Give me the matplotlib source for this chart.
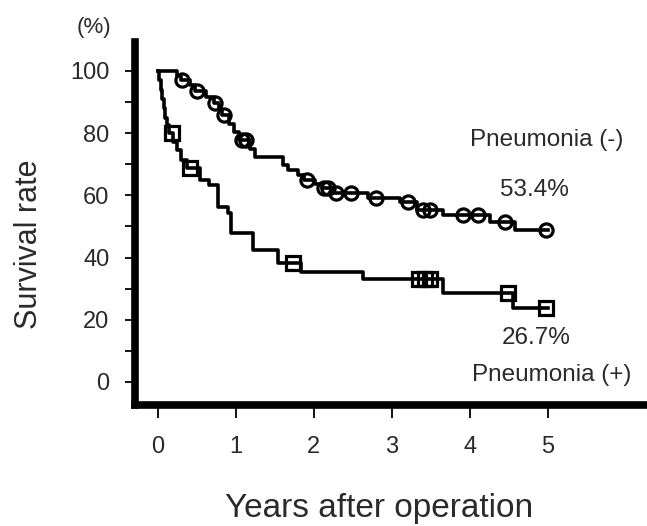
import numpy as np
import matplotlib
matplotlib.use("Agg")
import matplotlib.pyplot as plt

# ---------------- data ----------------
# Pneumonia (-) : step times (years) and survival (%) after each step
neg_times = [0.00, 0.25, 0.30, 0.42, 0.48, 0.62, 0.72, 0.79, 0.83, 0.92, 0.98,
             1.04, 1.18, 1.25, 1.61, 1.67, 1.80, 1.88, 2.02, 2.10, 2.24, 2.70,
             3.10, 3.32, 3.66, 4.26, 4.58, 5.00]
neg_surv = [100.0, 98.5, 97.0, 95.5, 93.6, 91.5, 89.6, 87.5, 85.8, 83.0, 80.5,
            77.8, 75.0, 72.4, 69.8, 68.2, 66.5, 65.0, 63.8, 62.3, 60.6, 59.0,
            58.0, 55.3, 53.7, 51.5, 48.9, 48.9]
neg_censor = [0.31, 0.50, 0.74, 0.85, 1.08, 1.13, 1.91, 2.13, 2.18, 2.29, 2.48,
              2.80, 3.21, 3.40, 3.49, 3.91, 4.11, 4.45, 4.98]

# Pneumonia (+)
pos_times = [0.00, 0.02, 0.04, 0.06, 0.08, 0.10, 0.12, 0.14, 0.20, 0.25, 0.30,
             0.37, 0.54, 0.66, 0.77, 0.90, 0.94, 1.22, 1.54, 1.84, 2.63, 3.66,
             4.55, 5.00]
pos_surv = [100.0, 97.0, 94.0, 91.0, 88.0, 85.0, 82.5, 80.0, 77.0, 74.5, 71.5,
            68.7, 65.0, 63.3, 56.4, 54.2, 47.8, 42.4, 38.2, 35.5, 33.0, 28.7,
            23.7, 23.7]
pos_censor = [0.18, 0.41, 1.73, 3.35, 3.42, 3.49, 4.49, 4.98]

x_ticks = [0, 1, 2, 3, 4, 5]
y_ticks = [0, 20, 40, 60, 80, 100]
y_minor = [10, 30, 50, 70, 90]

neg_label = "Pneumonia (-)"
pos_label = "Pneumonia (+)"
neg_rate = "53.4%"
pos_rate = "26.7%"


def level_at(times, surv, t):
    idx = np.searchsorted(np.asarray(times), t, side="right") - 1
    return np.asarray(surv)[idx]


# ---------------- figure ----------------
plt.rcParams["font.family"] = ["Liberation Sans", "DejaVu Sans"]
TXT = "#2a2a2a"

fig = plt.figure(figsize=(6.47, 5.26), dpi=100)
ax = fig.add_axes([135 / 647, 1 - 405 / 526, (647 - 135) / 647, (405 - 42) / 526])

ax.step(neg_times, neg_surv, where="post", color="black", lw=2.6, zorder=3)
ax.step(pos_times, pos_surv, where="post", color="black", lw=2.6, zorder=3)

ax.plot(neg_censor, [level_at(neg_times, neg_surv, t) for t in neg_censor],
        ls="none", marker="o", ms=9.5, mfc="none", mec="black", mew=2.3, zorder=4)
ax.plot(pos_censor, [level_at(pos_times, pos_surv, t) for t in pos_censor],
        ls="none", marker="s", ms=9.5, mfc="none", mec="black", mew=2.3, zorder=4)

ax.set_xlim(-0.29, (647 - 158) / 78)
ax.set_ylim(-7.4, 109.3)

for s in ["top", "right"]:
    ax.spines[s].set_visible(False)
for s in ["left", "bottom"]:
    ax.spines[s].set_linewidth(5.5)
    ax.spines[s].set_color("black")
    ax.spines[s].set_capstyle("projecting")

ax.set_xticks(x_ticks)
ax.set_xticklabels([str(v) for v in x_ticks])
ax.set_yticks(y_ticks)
ax.set_yticklabels([str(v) for v in y_ticks])
ax.set_yticks(y_minor, minor=True)
ax.tick_params(axis="x", direction="out", length=9, width=1.3, pad=13,
               labelsize=17, colors="black", labelcolor=TXT)
ax.tick_params(axis="y", which="major", direction="out", length=7.5, width=1.3,
               pad=11, labelsize=17, colors="black", labelcolor=TXT)
ax.tick_params(axis="y", which="minor", direction="out", length=7.5, width=1.3,
               colors="black")

# annotations
ax.text(4.0, 77.8, neg_label, ha="left", va="center", fontsize=17.5, color=TXT)
ax.text(4.385, 61.7, neg_rate, ha="left", va="center", fontsize=17.5, color=TXT)
ax.text(4.41, 14.1, pos_rate, ha="left", va="center", fontsize=17.5, color=TXT)
ax.text(4.03, 2.3, pos_label, ha="left", va="center", fontsize=17.5, color=TXT,
        clip_on=False)

fig.text(94 / 647, 1 - 27 / 526, "(%)", ha="center", va="center",
         fontsize=16, color=TXT)
fig.text(29 / 647, 1 - 244 / 526, "Survival rate", rotation=90,
         ha="center", va="center", fontsize=22, color=TXT)
fig.text(379 / 647, 1 - 517 / 526, "Years after operation", ha="center",
         va="baseline", fontsize=24, color=TXT)

fig.savefig("out.png", dpi=100)
